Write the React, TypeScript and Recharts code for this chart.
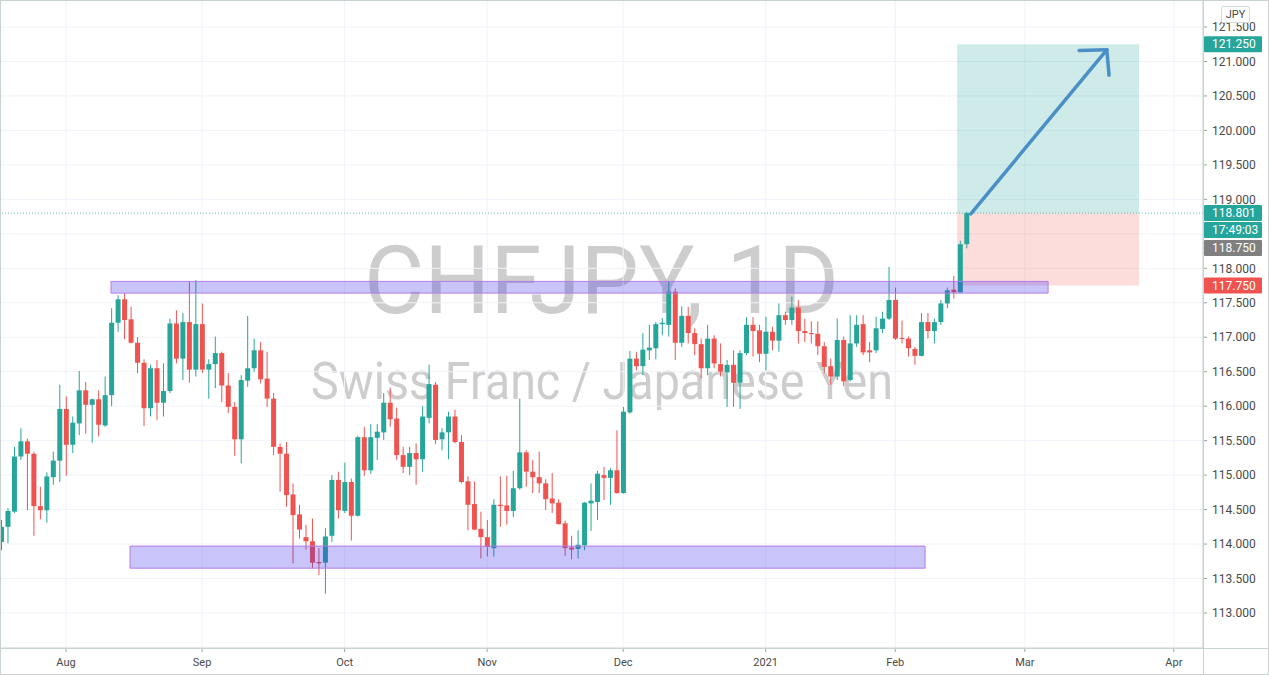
import {
  ComposedChart,
  Bar,
  XAxis,
  YAxis,
  CartesianGrid,
  ReferenceArea,
  ReferenceLine,
} from "recharts";

const GREEN = "#26a69a";
const RED = "#ef5350";
const FRAME = "#c9d3d1";
const FONT = "Roboto, 'Noto Sans', sans-serif";
const CHART_W = 1269;
const AXIS_W = 66;
const PLOT_RIGHT = CHART_W - AXIS_W;

// daily CHFJPY candles, 20 Jul 2020 -> 16 Feb 2021
const opens = [
  114.03, 114.25, 114.47, 115.27, 115.49, 115.31, 114.55, 114.49, 114.97, 115.21,
  115.96, 115.44, 115.75, 116.23, 116.02, 116.1, 115.72, 116.16, 117.21, 117.55,
  117.26, 116.92, 116.63, 115.97, 116.55, 116.05, 116.22, 117.2, 116.69, 117.22,
  116.53, 117.19, 116.53, 116.61, 116.77, 116.3, 115.99, 115.52, 116.37, 116.55,
  116.81, 116.4, 116.11, 115.41, 115.31, 114.72, 114.43, 114.1, 114.04, 113.74,
  113.73, 114.12, 114.93, 114.48, 114.9, 114.41, 115.55, 115.07, 115.54, 115.62,
  116.05, 115.82, 115.29, 115.12, 115.32, 115.23, 115.83, 116.31, 115.52, 115.62,
  115.85, 115.48, 114.91, 114.58, 114.22, 114.1, 113.94, 114.57, 114.56, 114.48,
  114.81, 115.33, 115.05, 114.97, 114.88, 114.66, 114.6, 114.3, 113.95, 113.93,
  113.98, 114.59, 114.61, 115.0, 114.96, 115.07, 114.74, 115.91, 116.69, 116.58,
  116.81, 116.84, 117.19, 117.18, 117.66, 116.92, 117.31, 117.06, 116.9, 116.55,
  116.98, 116.61, 116.49, 116.6, 116.34, 116.77, 117.18, 117.1, 116.76, 117.08,
  116.95, 117.32, 117.25, 117.43, 117.09, 117.06, 117.05, 116.87, 116.58, 116.43,
  116.96, 116.38, 116.91, 117.19, 116.81, 116.81, 117.12, 117.27, 117.54, 116.99,
  116.98, 116.83, 116.73, 117.22, 117.09, 117.22, 117.49, 117.69, 117.65, 118.35,
];
const highs = [
  114.35, 114.52, 115.41, 115.68, 115.53, 115.34, 114.83, 115.04, 115.34, 116.31,
  116.14, 115.85, 116.51, 116.35, 116.11, 116.23, 116.43, 117.42, 117.61, 117.64,
  117.44, 117.0, 116.68, 116.6, 116.67, 116.62, 117.27, 117.39, 117.35, 117.8,
  117.83, 117.49, 116.68, 117.01, 116.79, 116.48, 116.06, 116.45, 117.31, 116.98,
  116.93, 116.79, 116.19, 115.46, 115.48, 114.88, 114.57, 114.28, 114.37, 113.94,
  114.23, 115.0, 115.05, 115.18, 114.95, 115.57, 115.7, 115.74, 115.74, 116.19,
  116.27, 115.98, 115.41, 115.41, 115.46, 116.0, 116.6, 116.35, 115.68, 115.92,
  115.95, 115.58, 114.98, 114.91, 114.47, 114.35, 114.65, 114.98, 114.99, 115.06,
  116.11, 115.36, 115.22, 115.34, 114.94, 115.03, 114.65, 114.34, 114.12, 114.2,
  114.61, 114.88, 115.06, 115.12, 115.1, 115.65, 115.99, 116.8, 116.79, 117.06,
  117.18, 117.22, 117.28, 117.81, 117.71, 117.45, 117.44, 117.13, 116.98, 117.18,
  117.03, 116.91, 116.67, 116.81, 116.81, 117.29, 117.29, 117.18, 117.3, 117.15,
  117.49, 117.37, 117.59, 117.54, 117.27, 117.23, 117.23, 116.93, 116.69, 117.27,
  117.01, 117.32, 117.32, 117.32, 116.93, 117.3, 117.37, 118.02, 117.72, 117.24,
  117.01, 116.86, 117.35, 117.35, 117.27, 117.54, 117.72, 117.89, 118.4, 118.82,
];
const lows = [
  113.91, 114.01, 114.45, 115.22, 114.49, 114.12, 114.36, 114.31, 114.86, 114.9,
  114.99, 115.32, 115.58, 115.6, 115.47, 115.56, 115.7, 116.0, 117.08, 116.97,
  116.91, 116.48, 115.71, 115.85, 115.8, 115.85, 116.19, 116.62, 116.38, 116.34,
  116.43, 116.48, 116.11, 116.26, 116.06, 115.9, 115.28, 115.17, 116.28, 116.5,
  116.33, 115.99, 115.29, 114.76, 114.54, 113.72, 114.08, 113.92, 113.65, 113.55,
  113.28, 114.03, 114.37, 114.45, 114.05, 114.4, 114.99, 115.02, 115.22, 115.51,
  115.7, 115.22, 115.03, 115.0, 114.86, 115.05, 115.75, 115.45, 115.36, 115.23,
  115.46, 114.88, 114.2, 114.2, 113.79, 113.82, 113.82, 114.25, 114.28, 114.39,
  114.79, 114.83, 114.74, 114.74, 114.49, 114.45, 114.28, 113.83, 113.78, 113.79,
  113.91, 114.19, 114.35, 114.64, 114.57, 114.73, 114.73, 115.89, 116.52, 116.45,
  116.67, 116.68, 117.03, 117.01, 116.67, 116.86, 116.91, 116.74, 116.4, 116.45,
  116.55, 116.43, 115.99, 115.99, 115.96, 116.74, 116.72, 116.64, 116.52, 116.81,
  116.79, 117.18, 117.18, 116.91, 116.93, 116.91, 116.74, 116.48, 116.31, 116.38,
  116.29, 116.36, 116.86, 116.74, 116.64, 116.77, 117.06, 117.25, 116.96, 116.91,
  116.72, 116.6, 116.72, 116.98, 116.91, 117.18, 117.42, 117.56, 117.64, 118.29,
];
const closes = [
  114.25, 114.48, 115.27, 115.49, 115.31, 114.55, 114.49, 114.98, 115.21, 115.96,
  115.44, 115.76, 116.23, 116.02, 116.1, 115.73, 116.16, 117.21, 117.55, 117.25,
  116.92, 116.63, 115.97, 116.55, 116.05, 116.22, 117.2, 116.69, 117.22, 116.53,
  117.19, 116.53, 116.61, 116.77, 116.3, 115.99, 115.52, 116.38, 116.55, 116.81,
  116.39, 116.11, 115.41, 115.31, 114.71, 114.42, 114.21, 114.04, 113.73, 113.72,
  114.11, 114.93, 114.49, 114.9, 114.41, 115.55, 115.07, 115.55, 115.63, 116.05,
  115.81, 115.29, 115.12, 115.32, 115.23, 115.85, 116.32, 115.51, 115.62, 115.85,
  115.48, 114.9, 114.57, 114.21, 114.1, 113.96, 114.57, 114.55, 114.48, 114.81,
  115.33, 115.05, 114.97, 114.88, 114.65, 114.59, 114.29, 113.94, 113.92, 113.99,
  114.6, 114.63, 115.02, 114.96, 115.07, 114.74, 115.92, 116.69, 116.58, 116.82,
  116.85, 117.19, 117.21, 117.66, 116.92, 117.31, 117.06, 116.9, 116.55, 116.98,
  116.62, 116.5, 116.6, 116.34, 116.77, 117.18, 117.09, 116.76, 117.08, 116.95,
  117.32, 117.25, 117.43, 117.09, 117.06, 117.05, 116.87, 116.57, 116.43, 116.96,
  116.36, 116.91, 117.18, 116.78, 116.78, 117.13, 117.27, 117.54, 116.98, 116.98,
  116.84, 116.73, 117.22, 117.09, 117.22, 117.49, 117.68, 117.65, 118.35, 118.8,
];

// trading calendar (weekdays, holidays dropped), runs into the empty future
const firstDay = "2020-07-20";
const skipDays = ["2020-12-25", "2021-01-01"];
const slotCount = 186;

const monthTicks = [
  "2020-08-03", "2020-09-01", "2020-10-01", "2020-11-02", "2020-12-01",
  "2021-01-04", "2021-02-01", "2021-03-01", "2021-04-01",
];
const monthLabels = ["Aug", "Sep", "Oct", "Nov", "Dec", "2021", "Feb", "Mar", "Apr"];

const priceTicks = [
  113, 113.5, 114, 114.5, 115, 115.5, 116, 116.5, 117, 117.5, 118, 119, 119.5,
  120, 120.5, 121, 121.5,
];
const gridPrices = [
  113, 113.5, 114, 114.5, 115, 115.5, 116, 116.5, 117, 117.5, 118, 118.5, 119,
  119.5, 120, 120.5, 121, 121.5,
];

// drawings, x in bar slots, y in price
const resistanceZone = { x1: 16.94, x2: 161.59, y1: 117.64, y2: 117.81 };
const supportZone = { x1: 19.88, x2: 142.6, y1: 113.65, y2: 113.97 };
const position = { x1: 147.54, x2: 175.63, entry: 118.8, target: 121.25, stop: 117.75 };
const arrowShaft = [{ x: 149.66, y: 118.79 }, { x: 170.65, y: 121.17 }];
const arrowWingA = [{ x: 166.38, y: 121.16 }, { x: 170.65, y: 121.17 }];
const arrowWingB = [{ x: 171.0, y: 120.8 }, { x: 170.65, y: 121.17 }];
const lastPrice = 118.801;

function tradingDays(start: string, count: number, skip: string[]) {
  const out: string[] = [];
  const d = new Date(start + "T00:00:00Z");
  while (out.length < count) {
    const wd = d.getUTCDay();
    const iso = d.toISOString().slice(0, 10);
    if (wd !== 0 && wd !== 6 && !skip.includes(iso)) out.push(iso);
    d.setUTCDate(d.getUTCDate() + 1);
  }
  return out;
}

const dates = tradingDays(firstDay, slotCount, skipDays);
const rows = dates.map((date, i) => ({
  date,
  i,
  o: opens[i],
  h: highs[i],
  l: lows[i],
  c: closes[i],
}));

const Candle = (props: any) => {
  const { x, y, width, height, payload } = props;
  if (!payload || payload.o == null || y == null || isNaN(y)) return <g />;
  const { o, h, l, c } = payload;
  const top = Math.min(y, y + height);
  const bot = Math.max(y, y + height);
  const k = h === l ? 0 : (bot - top) / (h - l);
  const py = (v: number) => top + (h - v) * k;
  const color = c >= o ? GREEN : RED;
  const cx = x + width / 2;
  const bTop = py(Math.max(o, c));
  const bH = Math.max(1, py(Math.min(o, c)) - bTop);
  return (
    <g>
      <line x1={cx} x2={cx} y1={top} y2={bot} stroke={color} strokeWidth={1} />
      <rect x={x} y={bTop} width={width} height={bH} fill={color} />
    </g>
  );
};

// axis price tag, sits on the right scale at the line's height
const priceTag = (text: string, bg: string, dy = 0) => (p: any) => {
  const yy = Number(p.y1 ?? 0) + dy;
  return (
    <g>
      <rect x={PLOT_RIGHT + 1} y={yy - 8} width={58} height={16} fill={bg} rx={1} />
      <text
        x={PLOT_RIGHT + 9}
        y={yy}
        dy="0.35em"
        fill="#fff"
        fontSize={12}
        fontFamily={FONT}
      >
        {text}
      </text>
    </g>
  );
};

export default function App() {
  return (
    <div
      style={{
        position: "absolute",
        left: 0,
        top: 0,
        width: CHART_W,
        height: 675,
        background: "#fff",
        fontFamily: FONT,
        overflow: "hidden",
      }}
    >
      <svg width={CHART_W} height={675} style={{ position: "absolute", left: 0, top: 0 }}>
        <text
          x={601.5}
          y={312.7}
          textAnchor="middle"
          fontSize={94}
          fontFamily={FONT}
          fill="#cdcdcd"
          textLength={475}
          lengthAdjust="spacingAndGlyphs"
        >
          CHFJPY, 1D
        </text>
        <text
          x={602}
          y={398.6}
          textAnchor="middle"
          fontSize={51}
          fontFamily={FONT}
          fill="#cdcdcd"
          textLength={582}
          lengthAdjust="spacingAndGlyphs"
        >
          Swiss Franc / Japanese Yen
        </text>
      </svg>
      <div style={{ position: "absolute", left: 0, top: 0 }}>
        <ComposedChart
          width={CHART_W}
          height={675}
          data={rows}
          margin={{ top: 0, right: 0, bottom: 0, left: -2 }}
        >
          <CartesianGrid stroke="#f0f3fa" horizontalValues={gridPrices} />
          <XAxis
            dataKey="date"
            ticks={monthTicks}
            interval={0}
            height={27}
            tickSize={4}
            tickMargin={6}
            tickFormatter={(d: string) => monthLabels[monthTicks.indexOf(d)] ?? ""}
            tick={{ fill: "#4a4a4a", fontSize: 11, fontFamily: FONT }}
            tickLine={{ stroke: "#9aa3a1" }}
            axisLine={{ stroke: FRAME }}
          />
          <XAxis
            xAxisId="n"
            dataKey="i"
            type="number"
            domain={[-0.5, slotCount - 0.5]}
            allowDataOverflow
            hide
          />
          <YAxis
            orientation="right"
            width={AXIS_W}
            domain={[112.492, 121.892]}
            allowDataOverflow
            ticks={priceTicks}
            interval={0}
            tickSize={4}
            tickMargin={5}
            tickFormatter={(v: number) => v.toFixed(3)}
            tick={{ fill: "#4a4a4a", fontSize: 12, fontFamily: FONT }}
            tickLine={{ stroke: "#9aa3a1" }}
            axisLine={{ stroke: FRAME }}
          />
          <ReferenceArea
            xAxisId="n"
            x1={position.x1}
            x2={position.x2}
            y1={position.entry}
            y2={position.target}
            fill="rgba(38,166,154,0.22)"
            fillOpacity={1}
            stroke="none"
            zIndex={100}
          />
          <ReferenceArea
            xAxisId="n"
            x1={position.x1}
            x2={position.x2}
            y1={position.stop}
            y2={position.entry}
            fill="rgba(239,83,80,0.2)"
            fillOpacity={1}
            stroke="none"
            zIndex={100}
          />
          <Bar
            dataKey={(d: any) => (d.o == null ? undefined : [d.l, d.h])}
            barSize={5}
            shape={<Candle />}
            isAnimationActive={false}
          />
          <ReferenceArea
            xAxisId="n"
            x1={resistanceZone.x1}
            x2={resistanceZone.x2}
            y1={resistanceZone.y1}
            y2={resistanceZone.y2}
            fill="rgba(60,45,240,0.28)"
            fillOpacity={1}
            stroke="#b57be6"
            strokeWidth={1}
            zIndex={350}
          />
          <ReferenceArea
            xAxisId="n"
            x1={supportZone.x1}
            x2={supportZone.x2}
            y1={supportZone.y1}
            y2={supportZone.y2}
            fill="rgba(60,45,240,0.28)"
            fillOpacity={1}
            stroke="#b57be6"
            strokeWidth={1}
            zIndex={350}
          />
          <ReferenceLine
            y={lastPrice}
            stroke={GREEN}
            strokeDasharray="1 2"
            strokeOpacity={0.7}
            zIndex={360}
          />
          <ReferenceLine
            xAxisId="n"
            segment={arrowShaft}
            stroke="#4a8fc6"
            strokeWidth={3.5}
            strokeLinecap="round"
            zIndex={370}
          />
          <ReferenceLine
            xAxisId="n"
            segment={arrowWingA}
            stroke="#4a8fc6"
            strokeWidth={3.5}
            strokeLinecap="round"
            zIndex={370}
          />
          <ReferenceLine
            xAxisId="n"
            segment={arrowWingB}
            stroke="#4a8fc6"
            strokeWidth={3.5}
            strokeLinecap="round"
            zIndex={370}
          />
          <ReferenceLine y={position.target} shape={priceTag("121.250", GREEN)} zIndex={600} />
          <ReferenceLine y={lastPrice} shape={priceTag("118.801", GREEN)} zIndex={600} />
          <ReferenceLine y={lastPrice} shape={priceTag("17:49:03", GREEN, 17)} zIndex={600} />
          <ReferenceLine y={118.75} shape={priceTag("118.750", "#808080", 31.5)} zIndex={600} />
          <ReferenceLine y={position.stop} shape={priceTag("117.750", RED)} zIndex={600} />
        </ComposedChart>
      </div>
      <svg
        width={CHART_W}
        height={675}
        style={{ position: "absolute", left: 0, top: 0, pointerEvents: "none" }}
      >
        <rect x={0.5} y={0.5} width={CHART_W - 1} height={674} fill="none" stroke={FRAME} />
        <line x1={PLOT_RIGHT + 0.5} x2={PLOT_RIGHT + 0.5} y1={0} y2={675} stroke={FRAME} />
        <line x1={0} x2={CHART_W} y1={648.5} y2={648.5} stroke={FRAME} />
      </svg>
      <div
        style={{
          position: "absolute",
          left: 1221,
          top: 6,
          width: 29,
          height: 17,
          boxSizing: "border-box",
          border: "1px solid #d5dbda",
          borderRadius: 2,
          background: "#fff",
          color: "#4a4a4a",
          fontSize: 11,
          lineHeight: "15px",
          textAlign: "center",
        }}
      >
        JPY
      </div>
    </div>
  );
}
